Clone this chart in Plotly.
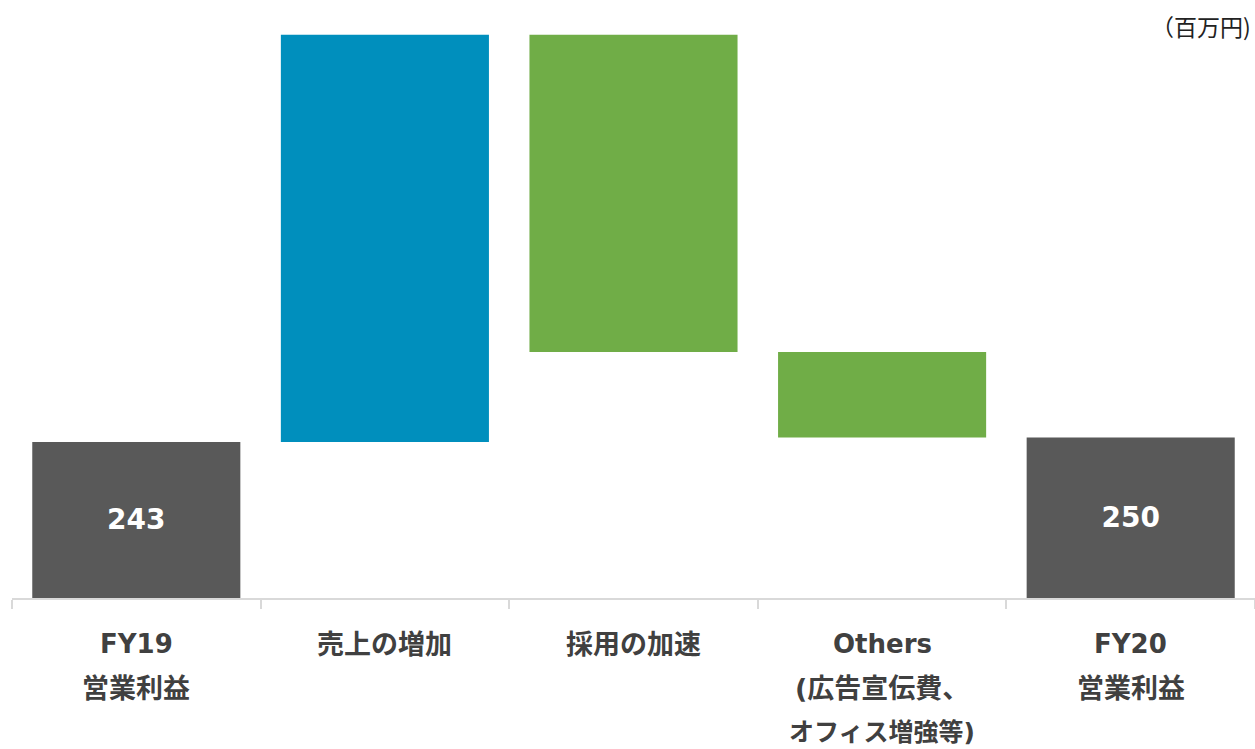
import plotly.graph_objects as go

# Operating profit bridge FY19 -> FY20 (millions of yen)
categories = ["FY19 営業利益", "売上の増加", "採用の加速", "Others 広告宣伝費等", "FY20 営業利益"]
label_lines = [
    ["FY19", "営業利益"],
    ["売上の増加"],
    ["採用の加速"],
    ["Others", "(広告宣伝費、", "オフィス増強等)"],
    ["FY20", "営業利益"],
]
measures = ["absolute", "relative", "relative", "relative", "total"]
values = [243, 634, -494, -133, 250]
unit_label = "（百万円)"

# running totals give the label for the absolute / total bars
running = []
acc = 0
for m, v in zip(measures, values):
    if m == "absolute":
        acc = v
    elif m == "relative":
        acc += v
    running.append(acc)
bar_text = [str(r) if m != "relative" else "" for m, r in zip(measures, running)]

LATIN_CJK = "DejaVu Sans, Noto Sans CJK JP, sans-serif"

fig = go.Figure(
    go.Waterfall(
        x=categories,
        y=values,
        measure=measures,
        width=[0.837] * len(categories),
        text=bar_text,
        textposition="inside",
        insidetextanchor="middle",
        constraintext="none",
        textfont=dict(family=LATIN_CJK, size=28, color="white", weight=700),
        increasing=dict(marker=dict(color="#008FBD")),
        decreasing=dict(marker=dict(color="#70AD47")),
        totals=dict(marker=dict(color="#595959")),
        connector=dict(visible=False),
        hoverinfo="skip",
    )
)

# multi-line category labels below the axis
annotations = []
for cat, lines in zip(categories, label_lines):
    for i, line in enumerate(lines):
        if line.isascii():
            size = 26
        elif i >= 2:
            size = 25
        else:
            size = 27
        annotations.append(
            dict(
                x=cat, y=0, xref="x", yref="y",
                text=line, showarrow=False,
                xanchor="center", yanchor="middle",
                yshift=-(46 + 44 * i),
                font=dict(family=LATIN_CJK, size=size, color="#404040", weight=700),
            )
        )

annotations.append(
    dict(
        x=1, y=1, xref="paper", yref="paper",
        text=unit_label, showarrow=False,
        xanchor="right", yanchor="middle",
        xshift=-2, yshift=-6,
        font=dict(family="Noto Sans CJK JP, sans-serif", size=23, color="#222222"),
    )
)

fig.update_layout(
    width=1255, height=749,
    margin=dict(l=12, r=0, t=20, b=151),
    paper_bgcolor="white", plot_bgcolor="white",
    showlegend=False,
    annotations=annotations,
    xaxis=dict(
        type="category",
        showticklabels=False,
        ticks="outside", tickson="boundaries",
        ticklen=9, tickwidth=1.5, tickcolor="#D9D9D9",
        showline=True, linecolor="#D9D9D9", linewidth=1.5,
        showgrid=False, zeroline=False, fixedrange=True,
    ),
    yaxis=dict(
        range=[0, 900],
        visible=False, showgrid=False, zeroline=False, fixedrange=True,
    ),
)

fig.write_html("out.html")
